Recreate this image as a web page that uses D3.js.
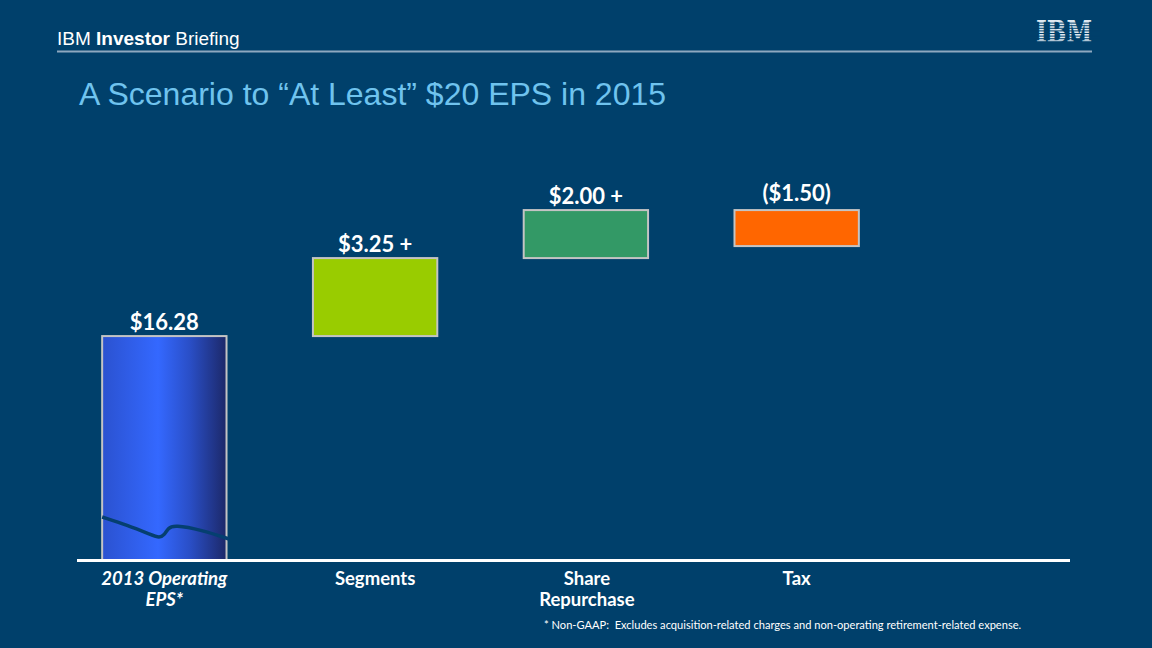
<!DOCTYPE html>
<html>
<head>
<meta charset="utf-8">
<script src="https://cdn.jsdelivr.net/npm/d3@7/dist/d3.min.js"></script>
<style>
html,body{margin:0;padding:0;background:#00406b;}
svg{display:block;}
</style>
</head>
<body>
<svg id="c" width="1152" height="648"></svg>
<script>
// ---- data ----
const categories = ["2013 Operating EPS*", "Segments", "Share Repurchase", "Tax"];
const values = [16.28, 3.25, 2.00, -1.50];
const valueLabels = ["$16.28", "$3.25 +", "$2.00 +", "($1.50)"];
const categoryLines = [["2013 Operating", "EPS*"], ["Segments"], ["Share", "Repurchase"], ["Tax"]];
const barColors = ["url(#blueGrad)", "#99cc00", "#339966", "#ff6600"];
const axisBreak = 6.95; // value where the first bar is cut (broken axis)

const svg = d3.select("#c");
const W = 1152, H = 648;
svg.append("rect").attr("width", W).attr("height", H).attr("fill", "#00406b");

// gradient for first bar
const defs = svg.append("defs");
const g = defs.append("linearGradient").attr("id", "blueGrad").attr("x1", "0").attr("x2", "1").attr("y1", "0").attr("y2", "0");
g.append("stop").attr("offset", "0%").attr("stop-color", "#2b52d0");
g.append("stop").attr("offset", "45%").attr("stop-color", "#3468ff");
g.append("stop").attr("offset", "70%").attr("stop-color", "#2a4fc8");
g.append("stop").attr("offset", "100%").attr("stop-color", "#1c2868");

// header
const header = svg.append("text").attr("x", 57).attr("y", 45).attr("fill", "#ffffff")
  .style("font-family", "'Liberation Sans', Arial, sans-serif").style("font-size", "19px");
header.append("tspan").text("IBM ").style("font-weight", "300");
header.append("tspan").text("Investor").style("font-weight", "bold");
header.append("tspan").text(" Briefing");
svg.append("line").attr("x1", 57).attr("x2", 1092).attr("y1", 51.5).attr("y2", 51.5)
  .attr("stroke", "#8ea8c0").attr("stroke-width", 2);

// IBM logo (striped)
const logo = svg.append("g");
logo.append("text").attr("x", 1092).attr("y", 42).attr("text-anchor", "end")
  .attr("fill", "#dfe8f0").style("font-family", "'DejaVu Serif', serif").style("font-weight", "bold")
  .style("font-size", "29px").attr("textLength", 56).attr("lengthAdjust", "spacingAndGlyphs").text("IBM");
for (let i = 0; i < 8; i++) {
  logo.append("rect").attr("x", 1030).attr("y", 21 + i * 2.6 + 1.6).attr("width", 70).attr("height", 1.0)
    .attr("fill", "#00406b");
}

// title
svg.append("text").attr("x", 79).attr("y", 105).attr("fill", "#6fc3ee")
  .style("font-family", "'Liberation Sans', Arial, sans-serif").style("font-size", "32px")
  .text("A Scenario to \u201cAt Least\u201d $20 EPS in 2015");

// scales
const x = d3.scaleBand().domain(categories).range([60, 901]).paddingInner(0.41).paddingOuter(0.2);
const y = d3.scaleLinear().domain([axisBreak, 21.95]).range([560, 200]);

// waterfall segments
let run = 0;
const bars = categories.map((c, i) => {
  const start = i === 0 ? axisBreak : run;
  const end = i === 0 ? values[0] : run + values[i];
  run = i === 0 ? values[0] : run + values[i];
  return { c, i, lo: Math.min(start, end), hi: Math.max(start, end) };
});

const font = "Lato, 'Open Sans', sans-serif";

svg.selectAll("rect.bar").data(bars).enter().append("rect").attr("class", "bar")
  .attr("x", d => x(d.c)).attr("width", x.bandwidth())
  .attr("y", d => y(d.hi)).attr("height", d => y(d.lo) - y(d.hi))
  .attr("fill", d => barColors[d.i])
  .attr("stroke", "#c4c4c4").attr("stroke-width", 2);

// break line on first bar
const b0 = bars[0];
const bx = x(b0.c), bw = x.bandwidth();
const breakPts = [[0.0, 517], [0.2, 525], [0.4, 535], [0.46, 538], [0.5, 535], [0.53, 528], [0.58, 525], [0.8, 530], [1.02, 539]];
const line = d3.line().x(p => bx + p[0] * bw).y(p => p[1]).curve(d3.curveBasis);
svg.append("path").attr("d", line(breakPts)).attr("fill", "none").attr("stroke", "#053f70").attr("stroke-width", 3.5);

// value labels
svg.selectAll("text.val").data(bars).enter().append("text").attr("class", "val")
  .attr("x", d => x(d.c) + bw / 2)
  .attr("y", d => d.i === 3 ? y(d.hi) - 9 : y(d.hi) - 6)
  .attr("text-anchor", "middle").attr("fill", "#ffffff")
  .style("font-family", font).style("font-weight", "bold").style("font-size", "22px")
  .text(d => valueLabels[d.i]);

// baseline
svg.append("line").attr("x1", 77).attr("x2", 1070).attr("y1", 560.5).attr("y2", 560.5)
  .attr("stroke", "#ffffff").attr("stroke-width", 3);

// category labels
categories.forEach((c, i) => {
  const t = svg.append("text").attr("text-anchor", "middle").attr("fill", "#ffffff")
    .style("font-family", font).style("font-weight", "bold").style("font-size", "18.5px")
    .style("font-style", i === 0 ? "italic" : "normal");
  categoryLines[i].forEach((ln, k) => {
    t.append("tspan").attr("x", x(c) + bw / 2 + (i === 2 ? 1 : 0)).attr("y", 585 + k * 21).text(ln);
  });
});

// footnote
svg.append("text").attr("x", 544).attr("y", 629).attr("fill", "#ffffff")
  .style("font-family", font).style("font-size", "11.1px").attr("xml:space", "preserve")
  .text("* Non-GAAP:  Excludes acquisition-related charges and non-operating retirement-related expense.");
</script>
</body>
</html>
